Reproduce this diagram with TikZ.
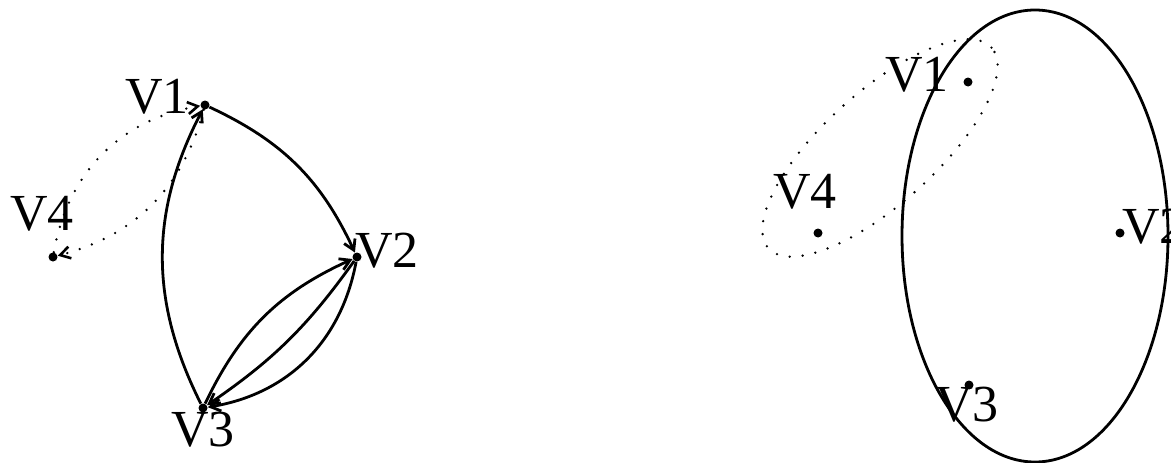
\documentclass[tikz,border=0pt]{standalone}
\usepackage{fontspec}
\setmainfont{Liberation Serif}
\usetikzlibrary{arrows.meta}

\begin{document}
\begin{tikzpicture}[x=0.5pt,y=0.5pt,
    vdot/.style={circle,fill=black,inner sep=0pt,minimum size=4.5pt},
    vname/.style={inner sep=0pt,font=\fontsize{26}{30}\selectfont},
    edge/.style={line width=1.4pt,-{Straight Barb[length=5pt,width=6pt]}},
    dotline/.style={line width=1.3pt,line cap=round,dash pattern=on 0pt off 6.5pt}]
  \useasboundingbox (0,0) rectangle (1171,462);
  % directed graph
  \node[vdot] (v1) at (205,357) {};
  \node[vdot] (v2) at (357,205) {};
  \node[vdot] (v3) at (203,54) {};
  \node[vdot] (v4) at (53,205) {};
  \node[vname] (n1) at (157,365) {V1};
  \node[vname] (n2) at (387,211) {V2};
  \node[vname] (n3) at (203,32) {V3};
  \node[vname] (n4) at (42,248) {V4};
  \draw[edge] (v3) to[bend left=27] (v1);
  \draw[edge] (v1) to[bend left=20] (v2);
  \draw[edge] (v3) to[bend left=20] (v2);
  \draw[edge] (v2) to[bend left=10] (v3);
  \draw[edge] (v2) to[bend left=35] (v3);
  \draw[edge,dotline] (v4) to[bend left=35] (v1);
  \draw[edge,dotline] (v1) to[bend left=30] (v4);
  % hypergraph
  \node[vdot] (w1) at (968,380) {};
  \node[vdot] (w2) at (1120,229) {};
  \node[vdot] (w3) at (969,77) {};
  \node[vdot] (w4) at (818,229) {};
  \node[vname] (m1) at (917,387) {V1};
  \node[vname,anchor=west] (m2) at (1122,235) {V2};
  \node[vname] (m3) at (967,57) {V3};
  \node[vname] (m4) at (805,270) {V4};
  \draw[line width=1.4pt] (1035,226) ellipse [x radius=133,y radius=226];
  \draw[dotline,rotate around={42:(880,314)}] (880,314) ellipse [x radius=150,y radius=56];
\end{tikzpicture}
\end{document}
